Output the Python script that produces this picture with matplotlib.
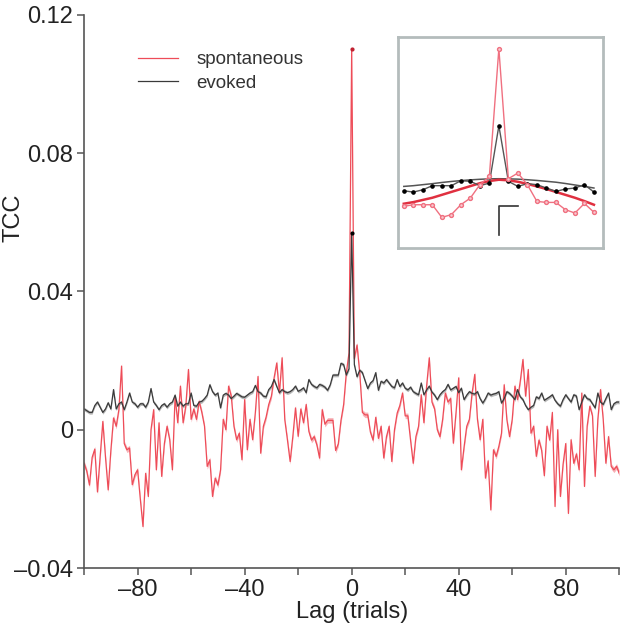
import numpy as np
import matplotlib.pyplot as plt

plt.rcParams['font.family'] = ['Liberation Sans', 'DejaVu Sans']

# lags -100..100, TCC values in units of 1e-3
lags = np.arange(-100, 101)
spont = [
    -9.7, -12, -16, -8, -5.6, -18, -8, 2.4, -8, -17.4,
    -6, 3.4, 1, 5.8, 18.4, -4, -5.8, -5.3, -15.9, -13,
    -11.6, -20, -28, -12.6, -19.3, 0, 5.8, -11.6, 2, -13.5,
    -4, 1, -2.9, -11.6, 9.7, 2, 12.6, 2, 6.8, 17.4,
    3, 6, 3, 8.2, 5, 1, -10.6, -8.7, -19.3, -14,
    -16, -11.6, 3, 0, 12.6, 9.7, 1, -2.9, -1, -8.7,
    8.7, -5.8, 3, -2.9, 5, 15.4, -6.8, 1, 3.6, 7.3,
    9.7, 15, 19.3, 10.6, 20.8, 2.9, -3, -9.2, -2, 6.3,
    -1.9, 6, 2, 7.3, -0.5, -3, -2, -4.4, -8.2, 5.8,
    1.6, 2.7, 2.7, 2.7, -6.0, -4.1, 2.7, 7.3, 16.5, 22.2,
    110,
    20.6, 24.5, 16.5, 5.0, 4.3, 4.3, -0.7, -3, 3.6, -2.5,
    1, -8.2, -2, 1, -9.2, 0, 4.8, 7, 10.6, 4,
    4, -3, -9.7, -2, 1, 10.1, 2, 12.6, 20.8, 8,
    6, 0, -2, 3, 10.6, 8, 9, -3.9, 5, 15,
    -11.6, -5, 1, 3, 10.6, 16, 3, -2.9, 3, -14,
    -9, -23.2, -5.8, -7.7, -4.8, -1, 13, 2.9, -2, 3,
    12.6, 8.7, 14, 20.3, 9.7, 17.4, -1, 1, -7.7, -3,
    -6, -13.3, 1, -3, 5, -22.2, 0, -19.3, -10, -4,
    -24.2, -2.9, -9.7, -7, -11.6, 10.6, -16.4, 1, 6.8, 4,
    -13.5, 3, 11.6, 3, -9.7, -2, -10.6, -11.6, -10.6, -12.6,
]
evoked = [
    6, 5.5, 5, 5, 7, 8, 6.5, 5, 6, 7.8,
    6, 11.6, 6, 7.5, 8, 5.8, 8, 10.6, 8, 7.5,
    6.5, 7.5, 7.5, 6.5, 8, 11.9, 8, 7, 5.8, 7,
    7.5, 6.5, 7.5, 8, 10, 6.8, 8, 6.8, 7.5, 7.5,
    10.6, 7, 6.8, 8, 8.2, 9, 10, 13, 11, 10,
    10.6, 6.3, 10, 10.5, 10, 9, 9.7, 10.5, 10, 9.5,
    9.4, 10, 10.6, 11, 12.8, 11, 10.6, 9.7, 9.5, 11.6,
    12.5, 14.5, 12.5, 10.7, 11.6, 11, 10.7, 11, 11.6, 12.6,
    11.1, 11.5, 12.1, 10.7, 14.5, 13.1, 12.5, 12.1, 13.1, 12.8,
    12.3, 11.4, 13.0, 15.8, 15.8, 15.8, 19.2, 18.8, 15.8, 17.6,
    57,
    18.8, 15.3, 17.2, 16.5, 14.2, 11.9, 13.5, 14.2, 16.5, 11.4,
    14, 13.5, 14.5, 13.5, 12.5, 12.1, 14.5, 12.5, 13.5, 12,
    11.5, 12.3, 11, 10.5, 10.1, 13.5, 10.1, 11.5, 12.6, 10.9,
    10, 8.7, 10.1, 11, 11.6, 13.1, 11.5, 12, 12.5, 10.7,
    12, 8.7, 10, 11, 10.5, 10.3, 11, 9, 7.7, 9,
    10.6, 10, 10.3, 10.5, 11, 7.7, 9, 11, 10.5, 9.7,
    8.7, 11.6, 9.5, 8.7, 7, 5.8, 6.5, 7, 9.5, 9,
    10.6, 8.5, 9, 9.5, 10.1, 8.5, 7.5, 6.8, 8.7, 10.1,
    9, 8, 10.1, 9.7, 5.8, 8, 10.1, 9, 8.7, 7.5,
    6.3, 10.6, 8, 7.3, 9, 10.6, 5.8, 7.5, 8, 8,
]
spont_sem = 0.8
evoked_sem = 0.5

# inset: fitted curves over lags -10..10 (1e-3 units)
fit_lags = np.arange(-10, 11)
spont_fit = [3.4, 4.5, 6, 7.5, 9.5, 11.5, 13.5, 15.5, 17.5, 19, 19.9,
             19.5, 18.5, 17, 15.3, 13.5, 11.5, 9.5, 7.5, 5.2, 2.7]
evoked_fit = [15.3, 15.8, 16.5, 17.2, 18, 18.7, 19.3, 19.8, 20.2, 20.5, 20.6,
              20.5, 20.3, 19.9, 19.4, 18.8, 18.2, 17.3, 16.3, 15.3, 14.2]

s = np.array(spont) * 1e-3
e = np.array(evoked) * 1e-3

red = '#ee4c58'
dark = '#3a3a3a'

fig = plt.figure(figsize=(6.23, 6.39), dpi=100)
ax = fig.add_axes([0.135, 0.111, 0.859, 0.866])

ax.fill_between(lags, s - spont_sem * 1e-3, s + spont_sem * 1e-3, color='#f7b3b8', lw=0)
ax.fill_between(lags, e - evoked_sem * 1e-3, e + evoked_sem * 1e-3, color='#b8b8b8', lw=0)
ax.plot(lags, s, color=red, lw=0.9, label='spontaneous')
ax.plot(lags, e, color=dark, lw=0.9, label='evoked')
i0 = list(lags).index(0)
ax.plot([0], [s[i0]], 'o', color='#c02030', ms=2)
ax.plot([0], [e[i0]], 'o', color='black', ms=2)

ax.set_xlim(-100, 100)
ax.set_ylim(-0.04, 0.12)
ax.set_xticks(np.arange(-100, 101, 20))
ax.set_xticklabels(['' if v % 40 else ('\u2013%d' % -v if v < 0 else '%d' % v)
                    for v in range(-100, 101, 20)])
ax.set_yticks([-0.04, 0, 0.04, 0.08, 0.12])
ax.set_yticklabels(['\u20130.04', '0', '0.04', '0.08', '0.12'])
for side in ['top', 'right']:
    ax.spines[side].set_visible(False)
for side in ['left', 'bottom']:
    ax.spines[side].set_color('#555555')
    ax.spines[side].set_linewidth(1.2)
ax.tick_params(colors='#555555', labelcolor='#222222', labelsize=17, length=5, width=1.1, pad=3)
ax.set_xlabel('Lag (trials)', fontsize=17, color='#222222', labelpad=0)
ax.set_ylabel('TCC', fontsize=17, color='#222222')
ax.yaxis.set_label_coords(-0.112, 0.633)

leg = ax.legend(loc='upper left', bbox_to_anchor=(0.07, 0.965), frameon=False,
                fontsize=13.5, handlelength=2.1, handletextpad=1.0, labelspacing=0.35)
for t in leg.get_texts():
    t.set_color('#333333')

# inset
ins = fig.add_axes([0.639, 0.612, 0.329, 0.330])
m = (lags >= -10) & (lags <= 10)
ins.plot(fit_lags, np.array(evoked_fit) * 1e-3, color='#555555', lw=1.1)
ins.plot(fit_lags, np.array(spont_fit) * 1e-3, color='#e03040', lw=1.8)
ins.plot(lags[m], e[m], '-o', color='#555555', mfc='black', mec='black', ms=2.3, lw=1.0)
ins.plot(lags[m], s[m], '-o', color='#f07080', mfc='#f8c8cf', mec='#f07080', ms=2.8, lw=1.0)
ins.plot([0, 0, 2], [-0.0184, 0.0016, 0.0016], color='#333333', lw=1.2)
ins.set_xlim(-10.6, 10.96)
ins.set_ylim(-0.027, 0.118)
ins.set_xticks([])
ins.set_yticks([])
for sp in ins.spines.values():
    sp.set_color('#b4bcbc')
    sp.set_linewidth(2)

fig.savefig('out.png', dpi=100)
